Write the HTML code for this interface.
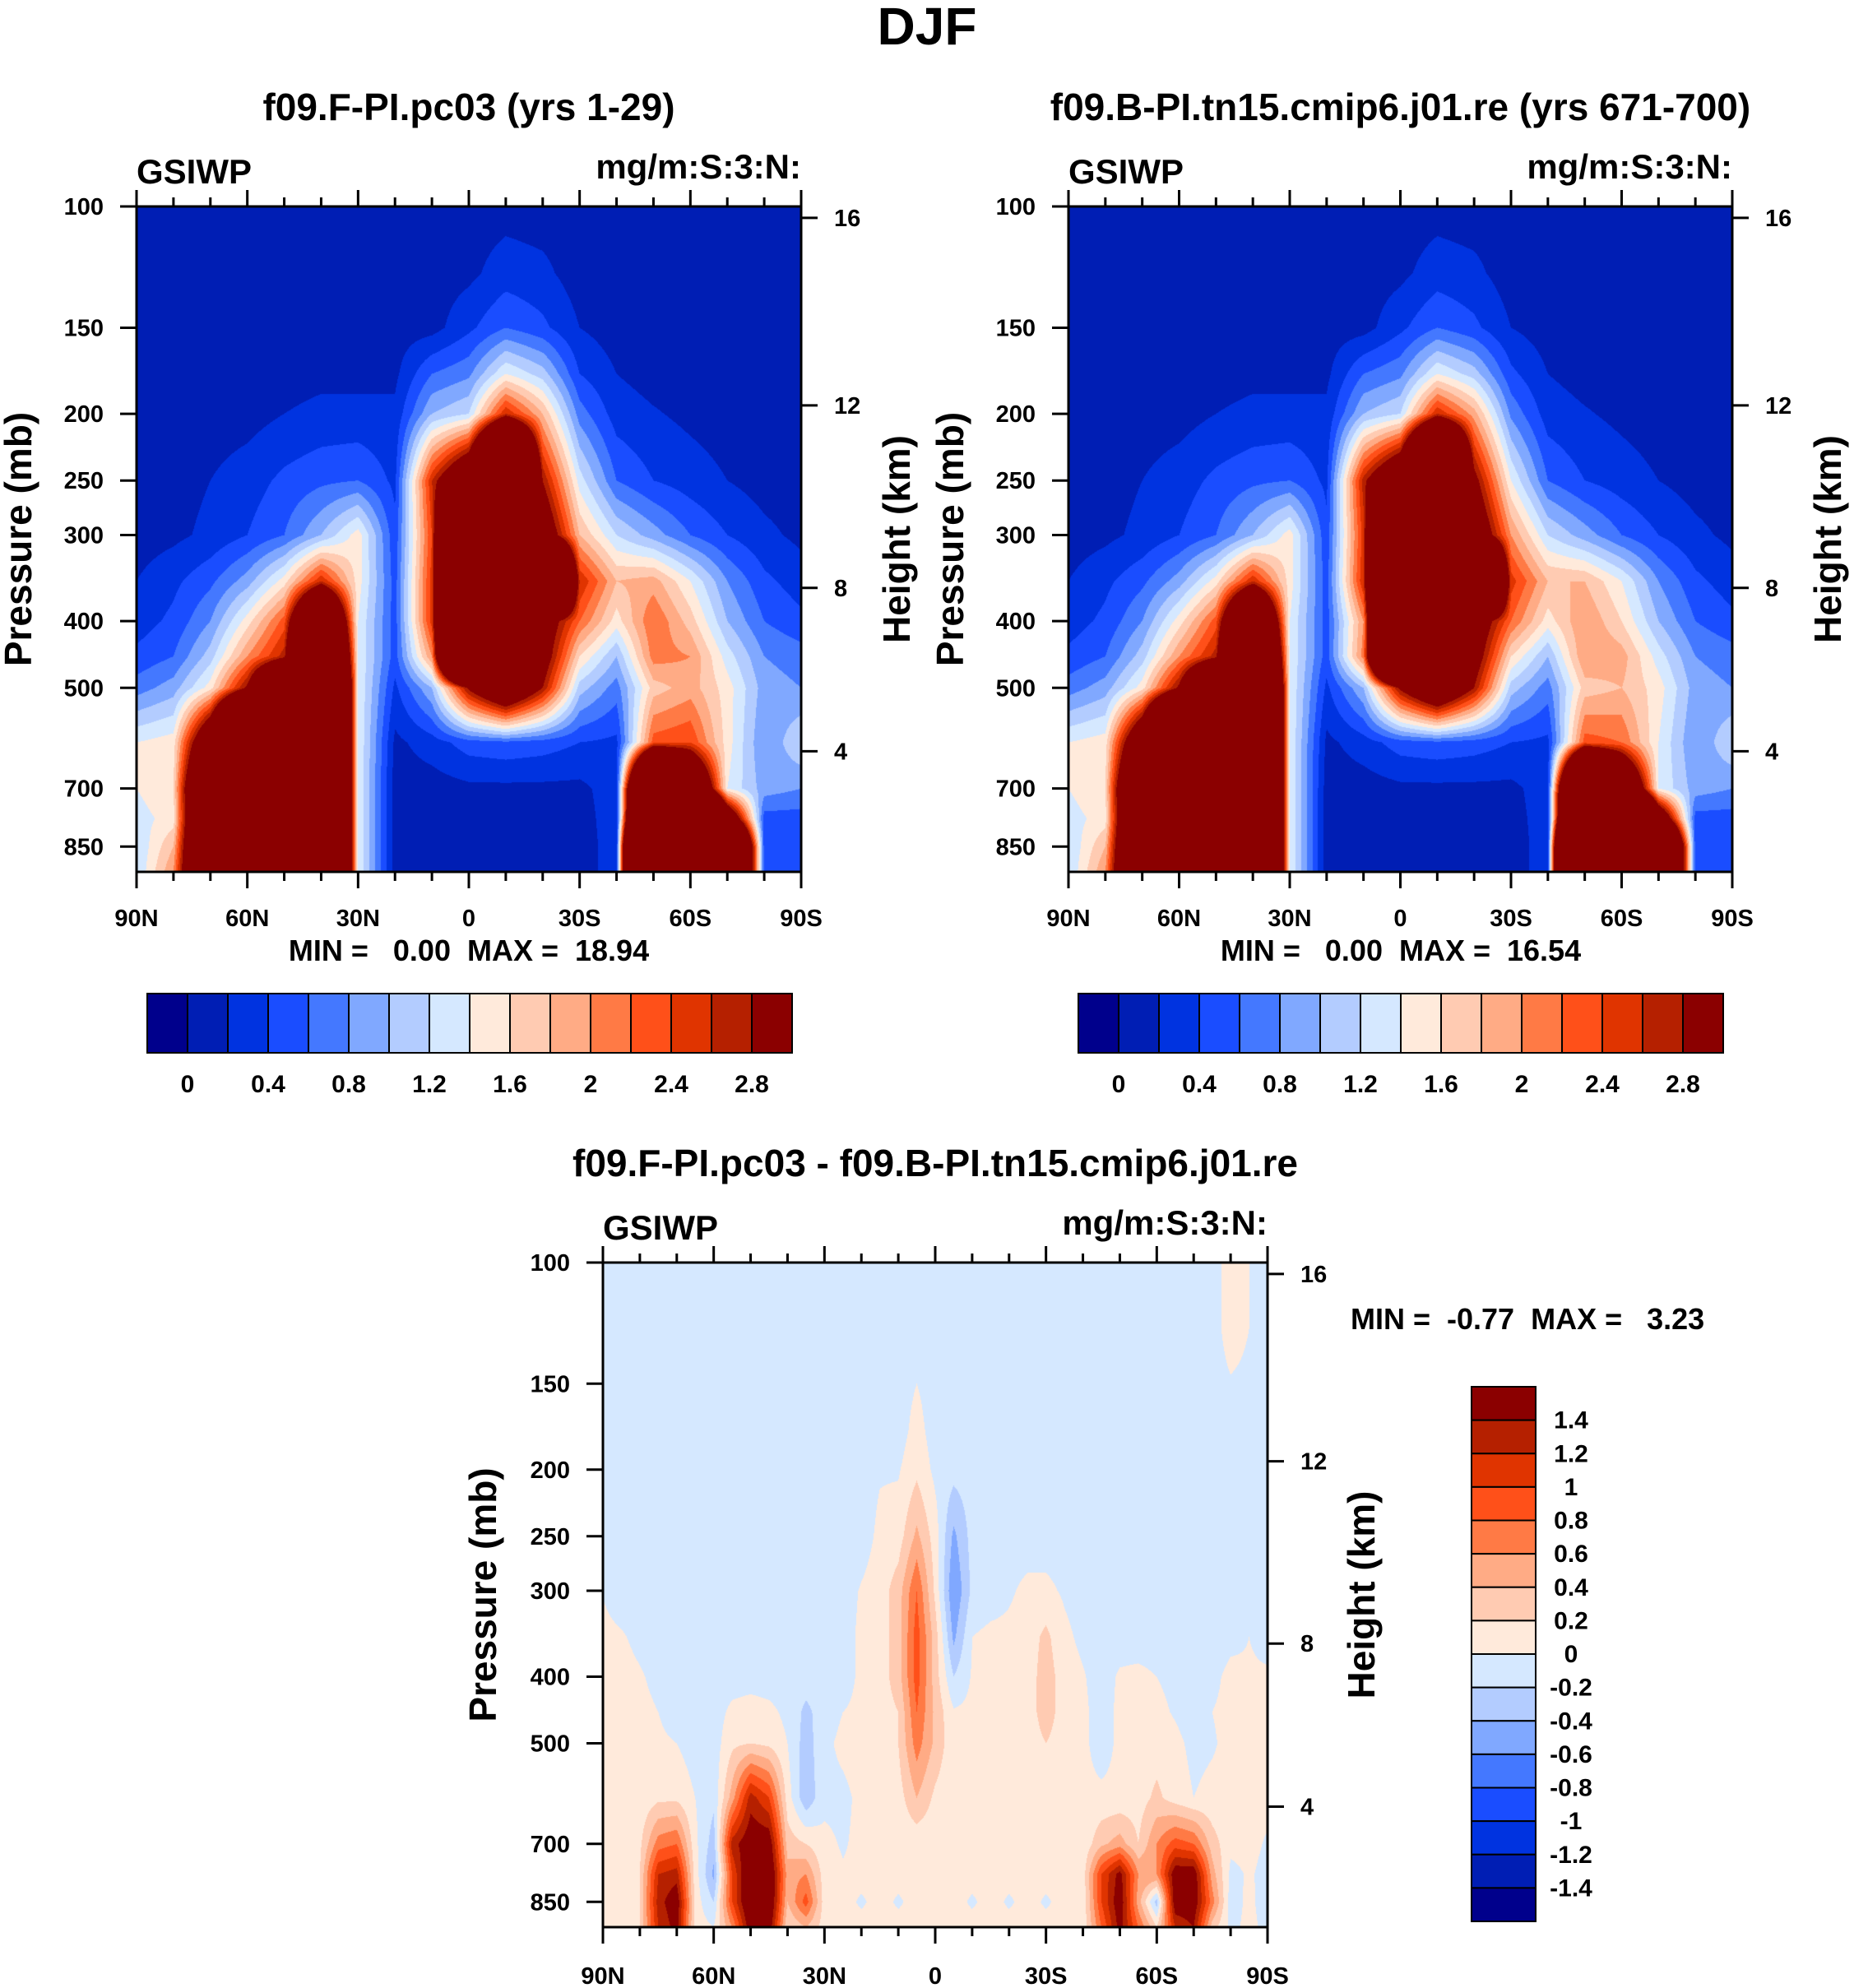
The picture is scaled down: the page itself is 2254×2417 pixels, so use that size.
<!DOCTYPE html>
<html><head><meta charset="utf-8"><title>DJF GSIWP</title>
<style>
html,body{margin:0;padding:0;background:#fff;}
#wrap{position:relative;width:2254px;height:2417px;overflow:hidden;background:#fff;font-family:"Liberation Sans",Arial,sans-serif;}
canvas{position:absolute;}
svg{position:absolute;left:0;top:0;}
text{font-family:"Liberation Sans",Arial,sans-serif;font-weight:bold;fill:#000;white-space:pre;}
</style></head>
<body>
<div id="wrap">
<canvas id="c1" width="808" height="809" style="left:166px;top:251px"></canvas>
<canvas id="c2" width="807" height="809" style="left:1299px;top:251px"></canvas>
<canvas id="c3" width="808" height="808" style="left:733px;top:1535px"></canvas>
<svg id="ov" width="2254" height="2417"></svg>
</div>
<script>
// ---- data ----
const pLevels=[100,125,150,175,200,250,300,350,400,450,500,600,700,775,850,925];
const lats10=[90,80,70,60,50,40,30,20,10,0,-10,-20,-30,-40,-50,-60,-70,-80,-90];
const lats5=[90,85,80,75,70,65,60,55,50,45,40,35,30,25,20,15,10,5,0,-5,-10,-15,-20,-25,-30,-35,-40,-45,-50,-55,-60,-65,-70,-75,-80,-85,-90];
const field1=[
[.1,.1,.1,.1,.1,.1,.1,.1,.1,.15,.3,.25,.1,.1,.1,.1,.1,.1,.1],
[.1,.1,.1,.1,.1,.1,.1,.1,.12,.35,.6,.45,.2,.1,.1,.1,.1,.1,.1],
[.1,.1,.1,.1,.12,.15,.15,.15,.6,.75,1.4,1.1,.4,.2,.12,.1,.1,.1,.1],
[.1,.1,.1,.12,.2,.25,.25,.25,1.0,1.2,2.6,1.8,.7,.3,.22,.15,.1,.1,.1],
[.1,.12,.2,.3,.45,.55,.6,.35,2.6,4,10,2.8,1.3,.6,.4,.3,.2,.12,.1],
[.1,.15,.25,.4,.6,1.0,1.5,.45,2.4,10,10,3.5,1.8,1.2,.9,.6,.4,.25,.15],
[.2,.35,.55,.9,1.5,2.6,1.5,.5,2.5,10,10,10,2.6,1.8,1.9,1.4,.8,.45,.3],
[.3,.45,.8,1.5,2.3,6,1.4,.5,2.5,10,10,3.3,2.2,1.5,2.2,1.7,1.0,.6,.45],
[.45,.6,1.1,2.0,2.7,8,1.4,.5,2.0,10,10,3.2,1.6,1.0,2.1,2.0,1.3,.8,.7],
[.7,.9,1.5,2.9,6,10,1.4,.35,1.0,2.9,4,2.8,1.1,.7,1.7,1.9,1.5,.9,.8],
[1.4,1.5,4,10,10,10,1.4,.15,.3,.5,.55,.5,.4,.35,2.3,2.4,1.5,.8,1.2],
[1.4,1.6,5.6,10,10,10,1.4,.1,.1,.15,.15,.15,.15,.3,9,5,1.4,.9,.8],
[1.3,1.5,5.6,10,10,10,1.4,.1,.1,.12,.12,.12,.12,.3,10,10,4,.5,.5],
[1.2,1.8,5.6,10,10,10,1.4,.1,.1,.1,.1,.1,.1,.3,15,10,8,.5,.5],
[1.2,2.0,5.6,10,10,10,1.4,.1,.1,.1,.1,.1,.1,.3,15,10,8,.5,.5]];
const field1Top=[.1,.1,.1,.1,.1,.1,.1,.1,.1,.1,.12,.1,.1,.1,.1,.1,.1,.1,.1];
const field2=[
[.1,.1,.1,.1,.1,.1,.1,.1,.1,.15,.3,.25,.1,.1,.1,.1,.1,.1,.1],
[.1,.1,.1,.1,.1,.1,.1,.1,.12,.35,.6,.45,.2,.1,.1,.1,.1,.1,.1],
[.1,.1,.1,.1,.12,.15,.15,.15,.6,.75,1.4,1.1,.45,.2,.12,.1,.1,.1,.1],
[.1,.1,.1,.12,.2,.25,.25,.25,1.0,1.2,2.6,1.9,.75,.3,.22,.15,.1,.1,.1],
[.1,.12,.2,.3,.45,.55,.6,.35,2.7,4,10,3.0,1.4,.6,.4,.3,.2,.12,.1],
[.1,.15,.25,.4,.6,1.0,1.5,.45,2.5,10,10,3.6,2.0,1.2,.9,.6,.4,.25,.15],
[.2,.35,.55,.9,1.5,2.6,1.5,.5,2.6,10,10,10,2.5,1.8,1.8,1.4,.8,.45,.3],
[.3,.45,.8,1.5,2.3,6,1.4,.5,2.0,10,10,3.4,2.2,1.5,2.0,1.6,1.0,.6,.45],
[.45,.6,1.1,2.0,2.7,8,1.4,.5,2.1,10,10,3.2,1.6,1.0,2.0,1.9,1.3,.8,.7],
[.7,.9,1.5,2.9,6,10,1.4,.35,1.0,2.9,4,2.8,1.1,.7,1.7,1.8,1.5,.9,.8],
[1.4,1.5,4,10,10,10,1.4,.15,.3,.5,.55,.5,.4,.35,2.3,2.2,1.4,.8,1.2],
[1.4,1.6,5.6,10,10,10,1.4,.1,.1,.15,.15,.15,.15,.3,9,5,1.4,.9,.8],
[1.3,1.5,5.6,10,10,10,1.4,.1,.1,.12,.12,.12,.12,.3,10,10,4,.5,.5],
[1.2,1.8,5.6,10,10,10,1.4,.1,.1,.1,.1,.1,.1,.3,15,10,8,.5,.5],
[1.2,2.0,5.6,10,10,10,1.4,.1,.1,.1,.1,.1,.1,.3,15,10,8,.5,.5]];
const field3=[
[-.1,-.1,-.1,-.1,-.1,-.1,-.1,-.1,-.1,-.1,-.1,-.1,-.1,-.1,-.1,-.1,-.1,-.1,-.1,-.1,-.1,-.1,-.1,-.1,-.1,-.1,-.1,-.1,-.1,-.1,-.1,-.1,-.1,-.1,.1,0,-.1],
[-.1,-.1,-.1,-.1,-.1,-.1,-.1,-.1,-.1,-.1,-.1,-.1,-.1,-.1,-.1,-.1,-.1,-.1,-.1,-.1,-.1,-.1,-.1,-.1,-.1,-.1,-.1,-.1,-.1,-.1,-.1,-.1,-.1,-.1,.1,0,-.1],
[-.1,-.1,-.1,-.1,-.1,-.1,-.1,-.1,-.1,-.1,-.1,-.1,-.1,-.1,-.1,-.1,-.1,0,-.1,-.1,-.1,-.1,-.1,-.1,-.1,-.1,-.1,-.1,-.1,-.1,-.1,-.1,-.1,-.1,-.02,-.05,-.1],
[-.1,-.1,-.1,-.1,-.1,-.1,-.1,-.1,-.1,-.1,-.1,-.1,-.1,-.1,-.1,-.1,-.1,.08,-.1,-.1,-.1,-.1,-.1,-.1,-.1,-.1,-.1,-.1,-.1,-.1,-.1,-.1,-.1,-.1,-.1,-.1,-.1],
[-.1,-.1,-.1,-.1,-.1,-.1,-.1,-.1,-.1,-.1,-.1,-.1,-.1,-.1,-.1,-.02,-.02,.15,-.05,-.12,-.1,-.1,-.1,-.1,-.1,-.1,-.1,-.1,-.1,-.1,-.1,-.1,-.1,-.1,-.1,-.1,-.1],
[-.1,-.1,-.1,-.1,-.1,-.1,-.1,-.1,-.1,-.1,-.1,-.1,-.1,-.1,-.1,.05,.1,.45,.1,-.45,-.12,-.1,-.1,-.1,-.1,-.1,-.1,-.1,-.1,-.1,-.1,-.1,-.1,-.1,-.1,-.1,-.1],
[-.01,-.1,-.1,-.1,-.1,-.1,-.1,-.1,-.1,-.1,-.1,-.1,-.1,-.1,.02,.1,.3,.8,.15,-.6,-.15,-.1,-.03,.05,.05,-.03,-.1,-.1,-.1,-.1,-.1,-.1,-.1,-.1,-.1,-.1,-.1],
[.05,.02,-.05,-.1,-.1,-.1,-.1,-.1,-.1,-.1,-.1,-.1,-.1,-.1,.05,.1,.3,.9,.3,-.45,0,.05,.05,.1,.25,.05,-.05,-.1,-.1,-.1,-.1,-.1,-.1,-.1,-.05,0,-.05],
[.1,.07,.02,-.05,-.1,-.1,-.1,-.1,-.1,-.1,-.1,-.1,-.1,-.1,.05,.1,.3,.9,.3,-.2,.02,0,.05,.1,.3,.1,.02,-.1,.03,.05,0,-.05,-.1,-.05,.05,.02,.02],
[.12,.1,.05,0,-.05,-.1,-.1,.05,.1,.05,-.05,-.25,-.1,0,.05,.1,.2,.8,.35,.02,.05,.1,.1,.1,.3,.1,.05,-.1,.05,.08,.05,-.02,-.1,0,.05,.05,.05],
[.12,.1,.05,.02,0,-.1,-.1,.15,.2,.15,0,-.3,-.05,.05,.1,.1,.2,.7,.35,.05,0,.1,.1,.1,.2,.1,.05,-.1,.05,.1,.1,.05,-.05,-.02,.05,.05,.05],
[.1,.1,.05,.15,.15,0,-.15,.5,1.3,1.0,.1,-.35,-.05,-.05,.05,.05,.1,.4,.15,.05,.05,.05,.05,.05,.05,.05,.05,.05,.05,.1,.25,.1,0,.05,.05,.05,.05],
[.05,.05,.15,.7,.8,.05,-.3,1.3,1.6,1.6,.3,.2,.05,-.02,.05,.05,.05,.05,.05,.05,.05,.05,.05,.05,.05,.05,.05,.35,.5,.2,.6,.9,.8,.3,.05,.05,-.02],
[.05,.05,.2,1.2,1.3,.1,-.45,1.0,1.8,1.8,.5,.6,.1,.02,.05,.05,.05,.05,.05,.05,.05,.05,.05,.05,.05,.05,.1,1.0,1.5,.6,.6,1.6,1.6,.5,-.05,.02,-.05],
[.05,.1,.2,1.3,1.6,.1,-.2,1.0,1.8,1.8,.4,.9,.1,.05,-.02,.05,-.02,.05,.05,.05,-.02,.05,-.02,.05,-.02,.05,.05,1.0,1.6,.5,-.3,1.6,1.6,.7,-.1,.05,-.1],
[.05,.1,.2,1.2,1.5,.1,0,.6,1.6,1.6,.2,.4,.1,.05,.05,.05,.05,.05,.05,.05,.05,.05,.05,.05,.05,.05,.05,.8,1.5,.8,.2,1.2,1.4,.3,-.05,.05,-.05]];
const levels1=[0,.2,.4,.6,.8,1,1.2,1.4,1.6,1.8,2,2.2,2.4,2.6,2.8];
const levels3=[-1.4,-1.2,-1,-.8,-.6,-.4,-.2,0,.2,.4,.6,.8,1,1.2,1.4];
const cbLabels1=["0","0.4","0.8","1.2","1.6","2","2.4","2.8"];
const cbLabels3=["1.4","1.2","1","0.8","0.6","0.4","0.2","0","-0.2","-0.4","-0.6","-0.8","-1","-1.2","-1.4"];
const colors=["#00008c","#001eb4","#0033e0","#1a4dff","#4478ff","#80a8ff","#b3ccff","#d5e8ff","#ffeadb","#ffcbb2","#ffab85","#ff7a45","#ff5019","#e03400","#b52000","#8b0000"];
const pTicks=[100,150,200,250,300,400,500,700,850];
const hTicks=[16,12,8,4];
const hTickP=[103.9,194.5,358,618];
const latMajor=[90,60,30,0,-30,-60,-90];
const latMajorLbl=["90N","60N","30N","0","30S","60S","90S"];
const latMinor=[80,70,50,40,20,10,-10,-20,-40,-50,-70,-80];

field1.unshift(field1Top);
field2.unshift(field1Top.slice());

// ---- helpers ----
const PB=925, LR=Math.log(PB/100);
function yOfP(p,y0,h){return y0+h*Math.log(p/100)/LR;}
function xOfLat(lat,x0,w){return x0+w*(90-lat)/180;}
function hexRGB(h){return [parseInt(h.substr(1,2),16),parseInt(h.substr(3,2),16),parseInt(h.substr(5,2),16)];}
const rgb=colors.map(hexRGB);
function colorIdx(v,lev){let k=0;while(k<lev.length&&v>=lev[k])k++;return k;}
const lnP=pLevels.map(p=>Math.log(p));

function renderField(cid,grid,lats,lev){
  const cv=document.getElementById(cid),ctx=cv.getContext('2d');
  const W=cv.width,H=cv.height,img=ctx.createImageData(W,H),d=img.data;
  const step=(lats[0]-lats[lats.length-1])/(lats.length-1);
  const n=lats.length;
  const rowK=[],rowF=[];
  for(let j=0;j<H;j++){
    const lp=Math.log(100)+(j+0.5)/H*LR;
    let k=0;while(k<lnP.length-2&&lp>lnP[k+1])k++;
    rowK.push(k);rowF.push(Math.min(1,Math.max(0,(lp-lnP[k])/(lnP[k+1]-lnP[k]))));
  }
  for(let i=0;i<W;i++){
    const lat=90-180*(i+0.5)/W;
    let fi=(lats[0]-lat)/step;let c=Math.min(n-2,Math.floor(fi));let fx=fi-c;
    for(let j=0;j<H;j++){
      const k=rowK[j],fy=rowF[j];
      const a=grid[k][c],b=grid[k][c+1],e=grid[k+1][c],f=grid[k+1][c+1];
      const v=(a*(1-fx)+b*fx)*(1-fy)+(e*(1-fx)+f*fx)*fy;
      const col=rgb[colorIdx(v,lev)];
      const o=(j*W+i)*4;d[o]=col[0];d[o+1]=col[1];d[o+2]=col[2];d[o+3]=255;
    }
  }
  ctx.putImageData(img,0,0);
}
renderField('c1',field1,lats10,levels1);
renderField('c2',field2,lats10,levels1);
renderField('c3',field3,lats5,levels3);

const NS="http://www.w3.org/2000/svg",ov=document.getElementById('ov');
function el(tag,attrs,parent){const e=document.createElementNS(NS,tag);for(const k in attrs)e.setAttribute(k,attrs[k]);(parent||ov).appendChild(e);return e;}
function txt(s,x,y,size,anchor,name,parent,extra){
  const t=el('text',Object.assign({x:x,y:y,'font-size':size,'text-anchor':anchor||'start'},extra||{}),parent);
  
  
  t.textContent=s;return t;
}
function line(x1,y1,x2,y2,parent,w){const l=el('line',{x1:x1,y1:y1,x2:x2,y2:y2,stroke:'#000','stroke-width':w||3},parent);return l;}

function axes(o){
  const g=el('g',{});
  
  
  const {x0,y0,w,h}=o;
  const fr=el('rect',{x:x0,y:y0,width:w,height:h,fill:'none',stroke:'#000','stroke-width':3},g);
  
  
  latMajor.forEach((lat,i)=>{const x=xOfLat(lat,x0,w);
    line(x,y0+h,x,y0+h+20,g);line(x,y0,x,y0-20,g);
    txt(latMajorLbl[i],x,o.xlblY,29,'middle','x-tick-label',g);});
  latMinor.forEach(lat=>{const x=xOfLat(lat,x0,w);line(x,y0+h,x,y0+h+11,g);line(x,y0,x,y0-11,g);});
  pTicks.forEach(p=>{const y=yOfP(p,y0,h);line(x0,y,x0-20,y,g);
    txt(String(p),x0-40,y+10,29,'end','y-tick-label',g);});
  hTicks.forEach((km,i)=>{const y=yOfP(hTickP[i],y0,h);line(x0+w,y,x0+w+20,y,g);
    txt(String(km),x0+w+40,y+10,29,'start','height-tick-label',g);});
  txt('Pressure (mb)',0,0,46,'middle','y-axis-title',g,{transform:`translate(${o.ptX},${y0+h/2}) rotate(-90)`});
  txt('Height (km)',0,0,46,'middle','right-axis-title',g,{transform:`translate(${o.htX},${y0+h/2}) rotate(-90)`});
  txt('GSIWP',x0,o.subY,42,'start','variable-label',g);
  txt('mg/m:S:3:N:',x0+w,o.subY-6,42,'end','units-label',g);
  txt(o.title,x0+w/2,o.titleY,46,'middle','panel-title',g);
}
txt('DJF',1127,54,64,'middle','figure-title');
axes({name:'panel1-axes',x0:166,y0:251,w:808,h:809,xlblY:1126,ptX:38,htX:1106,subY:223,titleY:146,title:'f09.F-PI.pc03 (yrs 1-29)'});
axes({name:'panel2-axes',x0:1299,y0:251,w:807,h:809,xlblY:1126,ptX:1171,htX:2238,subY:223,titleY:146,title:'f09.B-PI.tn15.cmip6.j01.re (yrs 671-700)'});
axes({name:'panel3-axes',x0:733,y0:1535,w:808,h:808,xlblY:2412,ptX:603,htX:1671,subY:1507,titleY:1430,title:'f09.F-PI.pc03 - f09.B-PI.tn15.cmip6.j01.re'});
txt('MIN =   0.00  MAX =  18.94',570,1168,36,'middle','panel1-min-max');
txt('MIN =   0.00  MAX =  16.54',1703,1168,36,'middle','panel2-min-max');
txt('MIN =  -0.77  MAX =   3.23',1642,1616,36,'start','panel3-min-max');

function hbar(x0,y0,w,h,name){
  const g=el('g',{});
  
  
  const bw=w/colors.length;
  colors.forEach((c,i)=>{const r=el('rect',{x:x0+i*bw,y:y0,width:bw,height:h,fill:c,stroke:'#000','stroke-width':2},g);
    
    });
  cbLabels1.forEach((s,i)=>txt(s,x0+(1+2*i)*bw,y0+h+48,30,'middle','colorbar-label',g));
}
hbar(179,1208,784,72,'panel1-colorbar');
hbar(1311,1208,784,72,'panel2-colorbar');
(function(){
  const x0=1789,y0=1686,w=78,h=650;
  const g=el('g',{});
  
  
  const bh=h/colors.length;
  colors.slice().reverse().forEach((c,i)=>{const r=el('rect',{x:x0,y:y0+i*bh,width:w,height:bh,fill:c,stroke:'#000','stroke-width':2},g);
    
    });
  cbLabels3.forEach((s,i)=>txt(s,1910,y0+(i+1)*bh+10,30,'middle','colorbar-label',g));
})();
</script>
</body></html>
